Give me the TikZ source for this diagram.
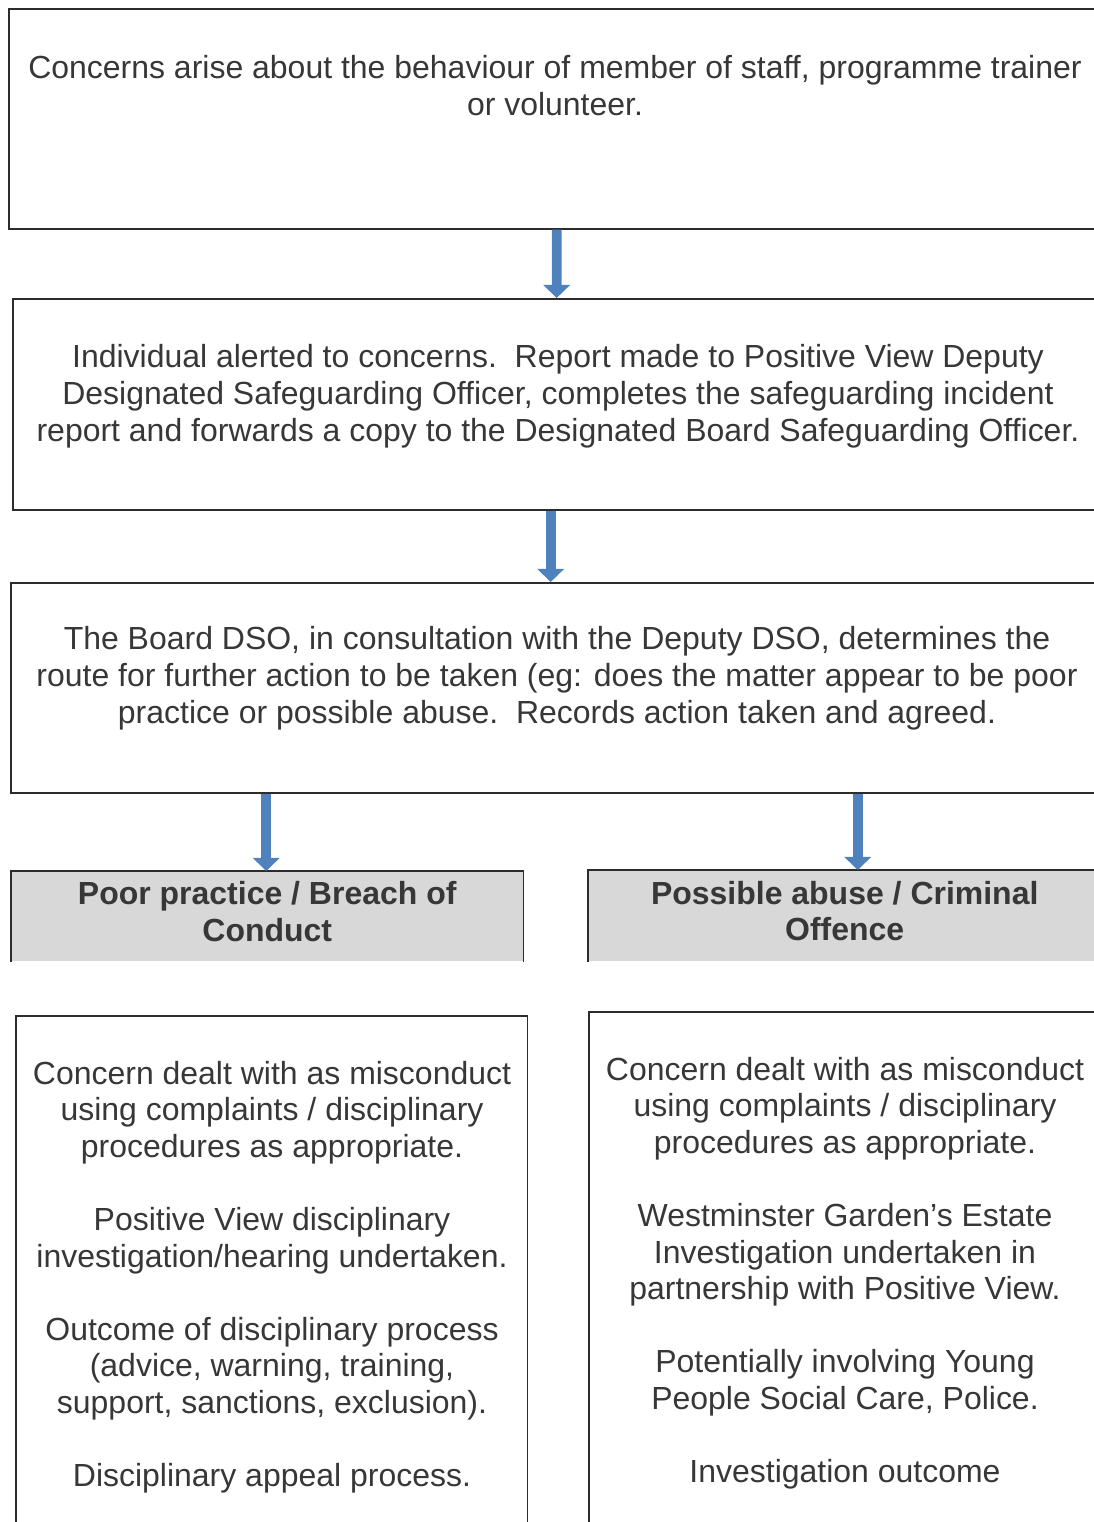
\documentclass[tikz,border=0pt]{standalone}
\usepackage{fontspec}
\setmainfont{Liberation Sans}
\usepackage{tikz}
\definecolor{arrowblue}{RGB}{79,129,189}
\definecolor{headgray}{RGB}{216,216,216}
\definecolor{ink}{RGB}{55,55,55}
\usetikzlibrary{calc,arrows.meta}
\tikzset{%
  frame/.style={draw=ink!80!black, line width=0.9pt, rectangle, anchor=north west, inner sep=0pt},% white box
  header/.style={frame, draw=none, fill=headgray, align=center, text depth=5.5pt, font=\fontsize{18.2}{21}\selectfont\bfseries, text=ink},% grey heading
  boxtext/.style={align=center, text=ink, font=\fontsize{18.2}{21}\selectfont},% text in box
  bodytext/.style={boxtext, font=\fontsize{18.2}{20.8}\selectfont},% text in lower boxes
  flow/.style={draw=arrowblue, line width=5.6pt, -{Triangle[width=15pt,length=7.5pt]}}% blue arrow
}
\begin{document}
\begin{tikzpicture}[x=0.02cm, y=-0.02cm]
\path[use as bounding box, clip] (0,0) rectangle (1094,1522);

\node[frame, minimum width=21.84cm, minimum height=4.4cm] (b1) at (8,8) {};
\node[frame, minimum width=21.76cm, minimum height=4.22cm] (b2) at (12,298) {};
\node[frame, minimum width=21.8cm, minimum height=4.2cm] (b3) at (10,582) {};

\node[boxtext] (t1) at (555,86) {Concerns arise about the behaviour of member of staff, programme trainer\\or volunteer.};
\node[boxtext] (t2) at (558,396) {Individual alerted to concerns.\ \ Report made to Positive View Deputy\\Designated Safeguarding Officer, completes the safeguarding incident\\report and forwards a copy to the Designated Board Safeguarding Officer.};
\node[boxtext] (t3) at (557,678) {The Board DSO, in consultation with the Deputy DSO, determines the\\route for further action to be taken (eg: does the matter appear to be poor\\practice or possible abuse.\ \ Records action taken and agreed.};

\node[header, minimum width=10.22cm, minimum height=1.78cm] (hL) at (11,871) {Poor practice / Breach of\\Conduct};
\node[header, minimum width=10.24cm, minimum height=1.8cm] (hR) at (588,870) {Possible abuse / Criminal\\Offence};
\draw[draw=ink!80!black, line width=0.9pt] (hL.south west) -- (hL.north west) -- (hL.north east) -- (hL.south east);
\draw[draw=ink!80!black, line width=0.9pt] (hR.south west) -- (hR.north west) -- (hR.north east) -- (hR.south east);

\node[frame, minimum width=10.24cm, minimum height=10.5cm] (bL) at (15,1015) {};
\node[frame, minimum width=10.24cm, minimum height=10.58cm] (bR) at (588,1011) {};

\node[bodytext] (tL) at (272,1277) {Concern dealt with as misconduct\\using complaints / disciplinary\\procedures as appropriate.\\[20.8pt]
  Positive View disciplinary\\investigation/hearing undertaken.\\[20.8pt]
  Outcome of disciplinary process\\(advice, warning, training,\\support, sanctions, exclusion).\\[20.8pt]
  Disciplinary appeal process.};
\node[bodytext] (tR) at (845,1273) {Concern dealt with as misconduct\\using complaints / disciplinary\\procedures as appropriate.\\[20.8pt]
  Westminster Garden’s Estate\\Investigation undertaken in\\partnership with Positive View.\\[20.8pt]
  Potentially involving Young\\People Social Care, Police.\\[20.8pt]
  Investigation outcome};

\draw[flow] ($(b1.south)+(2,0)$) -- ($(b2.north)+(0,0)$);
\draw[flow] ($(b2.south)+(-6,0)$) -- ($(b3.north)+(-5,0)$);
\draw[flow] ($(b3.south -| hL.north)+(-1,0)$) -- ($(hL.north)+(-1,0)$);
\draw[flow] ($(b3.south -| hR.north)+(13,0)$) -- ($(hR.north)+(13,0)$);

\end{tikzpicture}
\end{document}
